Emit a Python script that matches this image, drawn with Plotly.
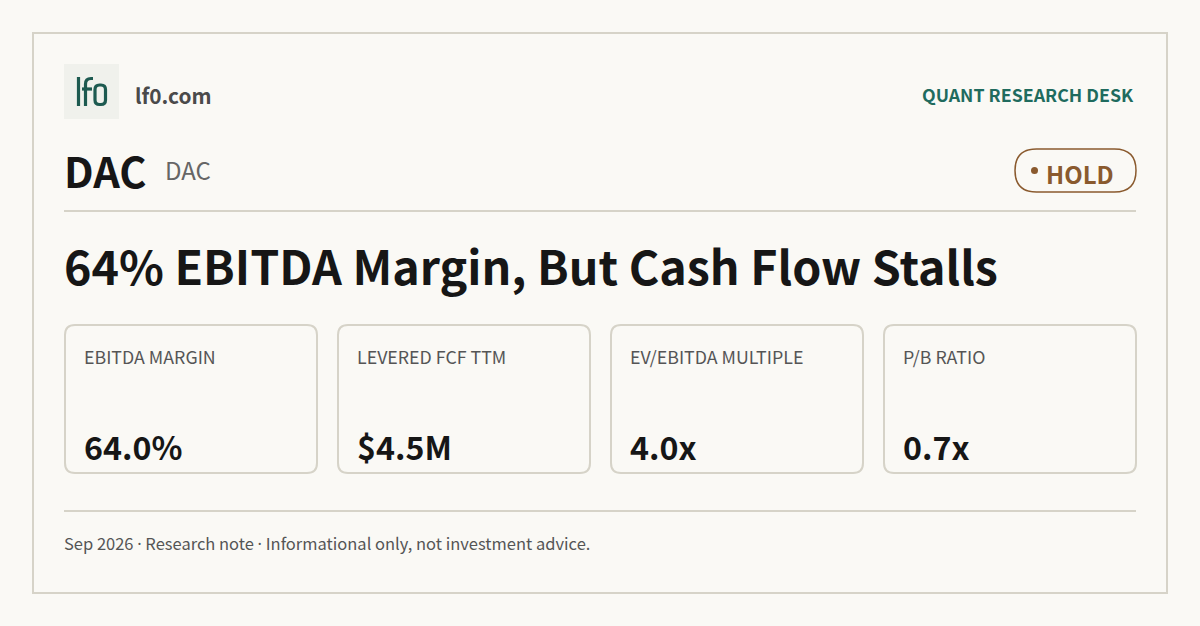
import plotly.graph_objects as go

# ---- content ----
ticker = "DAC"
ticker_sub = "DAC"
brand = "lf0.com"
desk = "QUANT RESEARCH DESK"
rating = "HOLD"
headline = "64% EBITDA Margin, But Cash Flow Stalls"
metric_labels = ["EBITDA MARGIN", "LEVERED FCF TTM", "EV/EBITDA MULTIPLE", "P/B RATIO"]
metric_values = ["64.0%", "$4.5M", "4.0x", "0.7x"]
footer_parts = ["Sep 2026", "Research note", "Informational only, not investment advice."]

# ---- style ----
W, H = 1200, 626
BG = "#faf9f5"
BORDER = "#d6d3c8"
DARK = "#161616"
GRAY = "#555555"
TEAL = "#1f6b5e"
LOGO = "#1d5a50"
BROWN = "#8a5a2e"
FONT = "Noto Sans CJK SC"


def rrect(x0, y0, x1, y1, r):
    return (f"M{x0+r},{y0} L{x1-r},{y0} Q{x1},{y0} {x1},{y0+r} "
            f"L{x1},{y1-r} Q{x1},{y1} {x1-r},{y1} L{x0+r},{y1} "
            f"Q{x0},{y1} {x0},{y1-r} L{x0},{y0+r} Q{x0},{y0} {x0+r},{y0} Z")


ann = []


def text(x, y, s, size, color, anchor="left", bold=False):
    ann.append(dict(x=x, y=y - 0.1 * size, text=f"<b>{s}</b>" if bold else s,
                    xanchor=anchor, yanchor="middle",
                    font=dict(family=FONT, size=size, color=color)))


fig = go.Figure()
shapes = []

# outer card border
shapes.append(dict(type="rect", x0=33, y0=33, x1=1167, y1=593,
                   line=dict(color=BORDER, width=2), fillcolor=BG, layer="below"))
# logo box + drawn "lf0" mark
shapes.append(dict(type="rect", x0=64, y0=64, x1=119, y1=119,
                   line=dict(width=0), fillcolor="#f0f1ec", layer="below"))
logo_line = dict(color=LOGO, width=3.2)
shapes.append(dict(type="line", x0=78.5, y0=77, x1=78.5, y1=106, line=logo_line))
shapes.append(dict(type="path", path="M85.5,106 L85.5,84 Q85.5,78.5 91,78.5 L93,78.5",
                   line=logo_line))
shapes.append(dict(type="line", x0=82, y0=89, x1=92, y1=89, line=logo_line))
shapes.append(dict(type="path", path=rrect(95, 85, 105.5, 104.5, 4.5), line=logo_line))

text(133, 97, brand, 20.8, "#4a4a4a", bold=True)
text(1136, 96, desk, 17.8, TEAL, anchor="right", bold=True)

# ticker
text(62, 174, ticker, 41.5, DARK, bold=True)
text(163, 172, ticker_sub, 24, "#666666")

# rating pill
shapes.append(dict(type="path", path=rrect(1015, 149, 1136, 192, 21.5),
                   line=dict(color=BROWN, width=1.5), fillcolor=BG))
shapes.append(dict(type="circle", x0=1031, y0=167, x1=1038, y1=174,
                   line=dict(width=0), fillcolor=BROWN))
text(1044, 176, rating, 24, BROWN, bold=True)

# separators
shapes.append(dict(type="line", x0=64, y0=211, x1=1136, y1=211,
                   line=dict(color=BORDER, width=2)))
shapes.append(dict(type="line", x0=64, y0=511, x1=1136, y1=511,
                   line=dict(color=BORDER, width=2)))

# headline
text(62, 269, headline, 46.6, DARK, bold=True)

# metric cards
card_w, gap = 252, 21
for i, (lab, val) in enumerate(zip(metric_labels, metric_values)):
    x0 = 65 + i * (card_w + gap)
    shapes.append(dict(type="path", path=rrect(x0, 325, x0 + card_w, 473, 10),
                       line=dict(color=BORDER, width=2), fillcolor=BG))
    text(x0 + 17, 358, lab, 17.8, GRAY)
    text(x0 + 17, 449, val, 32.2, DARK, bold=True)

# footer
dot = ' <span style="font-family:Noto Sans">·</span> '
text(62, 545, dot.join(footer_parts), 16.5, GRAY)

for a in ann:
    a.update(xref="x", yref="y", showarrow=False)
for s in shapes:
    s.update(xref="x", yref="y")

fig.update_layout(
    width=W, height=H, margin=dict(l=0, r=0, t=0, b=0),
    paper_bgcolor=BG, plot_bgcolor=BG,
    xaxis=dict(range=[0, W], visible=False, fixedrange=True),
    yaxis=dict(range=[H, 0], visible=False, fixedrange=True),
    shapes=shapes, annotations=ann, showlegend=False,
)
fig.write_html("out.html", config={"displayModeBar": False},
               post_script="document.body.style.margin='0';document.body.style.overflow='hidden';")
